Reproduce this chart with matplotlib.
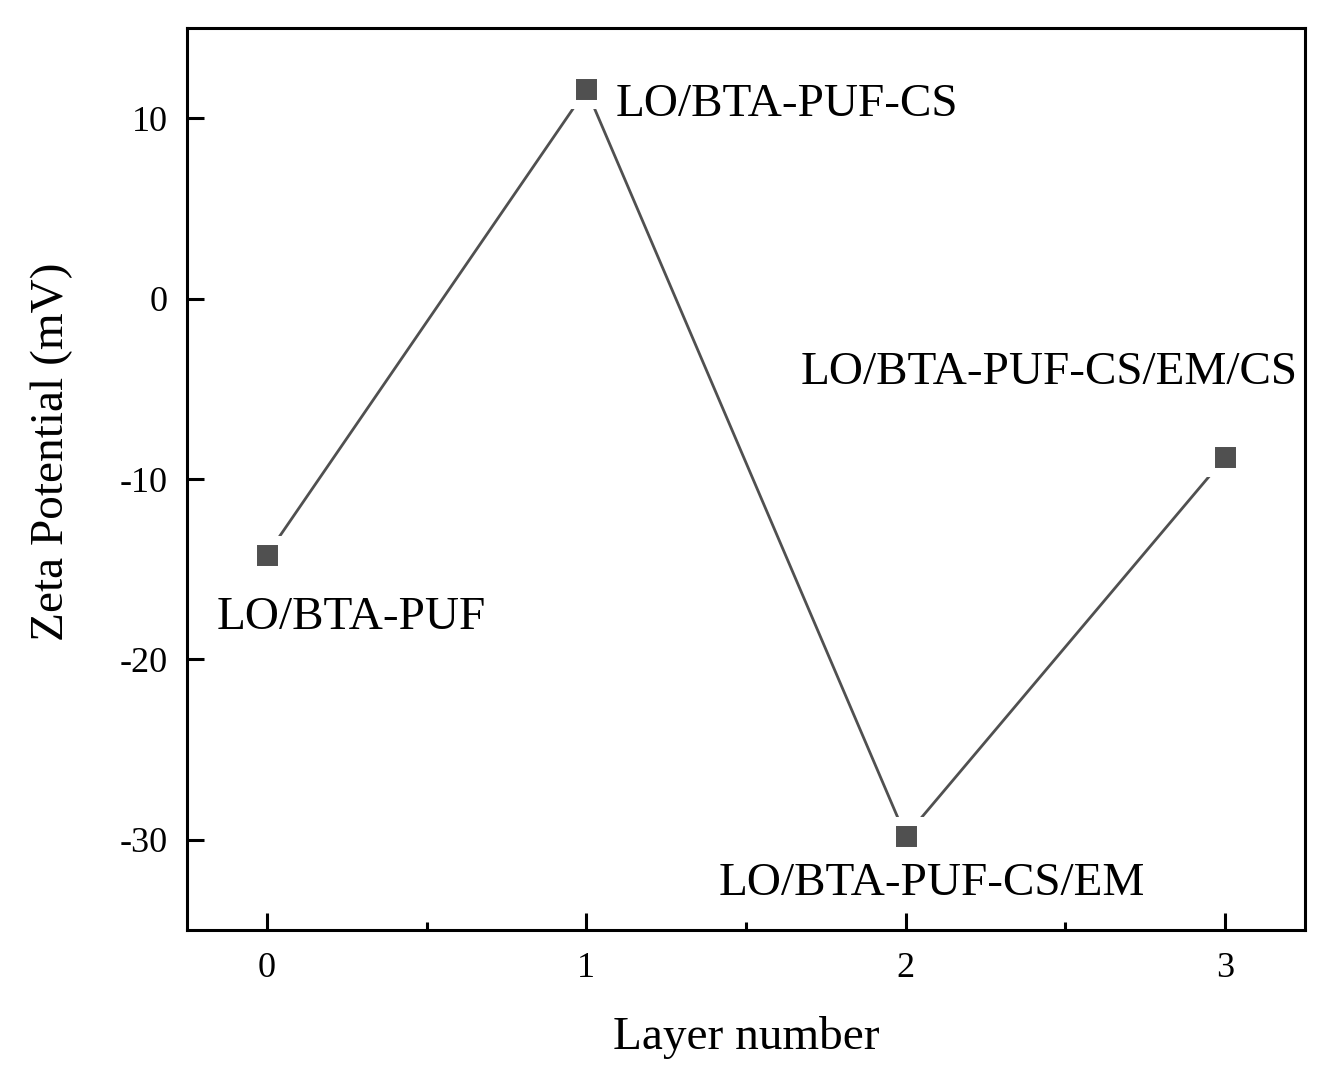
import matplotlib.pyplot as plt
from matplotlib.ticker import MultipleLocator

plt.rcParams["font.family"] = ["Liberation Serif", "DejaVu Serif"]
plt.rcParams["axes.unicode_minus"] = False

# data
layers = [0, 1, 2, 3]
zeta = [-14.2, 11.6, -29.8, -8.8]
names = ["LO/BTA-PUF", "LO/BTA-PUF-CS", "LO/BTA-PUF-CS/EM", "LO/BTA-PUF-CS/EM/CS"]
# label anchor offsets (data units) relative to each point
label_dx = [-0.157, 0.091, -0.586, -1.329]
label_dy = [-3.5, -0.84, -2.65, 4.7]

fig = plt.figure(figsize=(13.4, 10.87), dpi=100)
ax = fig.add_axes([0.1396, 0.1444, 0.8343, 0.8298])

ax.plot(layers, zeta, color="#505050", linewidth=2, zorder=2)
# white edge leaves a small gap between the line and the squares
ax.plot(layers, zeta, linestyle="none", marker="s", markersize=21,
        markerfacecolor="#505050", markeredgecolor="white",
        markeredgewidth=6.5, zorder=3)

for x, y, name, dx, dy in zip(layers, zeta, names, label_dx, label_dy):
    ax.text(x + dx, y + dy, name, fontsize=34, ha="left", va="center")

ax.set_xlim(-0.25, 3.25)
ax.set_ylim(-35, 15)
ax.xaxis.set_major_locator(MultipleLocator(1))
ax.xaxis.set_minor_locator(MultipleLocator(0.5))
ax.yaxis.set_major_locator(MultipleLocator(10))

ax.tick_params(axis="both", which="major", direction="in", length=12,
               width=2.2, labelsize=26)
ax.tick_params(axis="x", which="major", pad=16)
ax.tick_params(axis="y", which="major", pad=14)
ax.tick_params(axis="x", which="minor", direction="in", length=6, width=2.2)
for s in ax.spines.values():
    s.set_linewidth(2.2)

ax.set_xlabel("Layer number", fontsize=34)
ax.set_ylabel("Zeta Potential (mV)", fontsize=34)
ax.xaxis.set_label_coords(0.5, -0.095)
ax.yaxis.set_label_coords(-0.102, 0.53)

fig.savefig("out.png", dpi=100)
